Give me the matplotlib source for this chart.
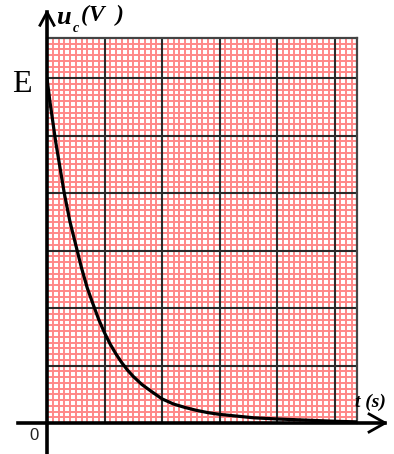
import numpy as np
import matplotlib
matplotlib.use('Agg')
import matplotlib.pyplot as plt
from matplotlib.ticker import MultipleLocator

# capacitor discharge curve (t in grid units, u in grid units, E = 6)
t_vals = [0.0, 0.05, 0.1, 0.15, 0.2, 0.25, 0.3, 0.4, 0.5, 0.6, 0.7, 0.8, 0.9,
          1.0, 1.1, 1.2, 1.3, 1.4, 1.5, 1.65, 1.8, 2.0, 2.2, 2.4, 2.6, 2.8,
          3.0, 3.3, 3.6, 4.0, 4.5, 5.0, 5.39]
u_vals = [6.0, 5.6, 5.25, 4.9, 4.6, 4.3, 4.0, 3.5, 3.1, 2.7, 2.35, 2.07, 1.8,
          1.57, 1.37, 1.2, 1.05, 0.92, 0.81, 0.67, 0.56, 0.42, 0.33, 0.27, 0.22, 0.18,
          0.15, 0.12, 0.09, 0.07, 0.05, 0.03, 0.02]
x_max = 5.39
y_max = 6.70

W, H = 394, 454
fig = plt.figure(figsize=(W/100, H/100), dpi=100)
fig.patch.set_facecolor('white')

# axes box in pixels: left 47, right 357, top 38, bottom 423
ax = fig.add_axes([47/W, (H-423)/H, (357-47)/W, (423-38)/H])
ax.set_xlim(0, x_max)
ax.set_ylim(0, y_max)

# graph paper: red minor grid, black major lines on top
ax.xaxis.set_major_locator(MultipleLocator(1))
ax.yaxis.set_major_locator(MultipleLocator(1))
ax.xaxis.set_minor_locator(MultipleLocator(0.1))
ax.yaxis.set_minor_locator(MultipleLocator(0.1))
ax.grid(which='both', color='#ff8888', linewidth=1.4)
ax.set_axisbelow(True)
for xv in range(1, 6):
    ax.axvline(xv, color='#2a2a2a', linewidth=1.5, zorder=2)
for yv in range(1, 7):
    ax.axhline(yv, color='#2a2a2a', linewidth=1.5, zorder=2)
ax.tick_params(which='both', length=0, labelbottom=False, labelleft=False)
for side in ['top', 'right']:
    ax.spines[side].set_color('#444444')
    ax.spines[side].set_linewidth(1.6)
for side in ['left', 'bottom']:
    ax.spines[side].set_visible(False)

# the curve
ax.plot(t_vals, u_vals, color='black', linewidth=2.3, solid_capstyle='round',
        solid_joinstyle='round', zorder=5)

# axes with open arrow heads (in grid units, 57.5 px per unit)
px = 1/57.5
ax.plot([0, 0], [-32*px, 411*px], color='black', linewidth=2.6, clip_on=False, zorder=6)
ax.plot([-7*px, 0, 7*px], [398*px, 411*px, 398*px], color='black', linewidth=2.0,
        clip_on=False, zorder=6)
ax.plot([-29*px, 338*px], [0, 0], color='black', linewidth=2.6, clip_on=False, zorder=6)
ax.plot([322*px, 338*px, 322*px], [9*px, 0, -9*px], color='black', linewidth=2.0,
        clip_on=False, zorder=6)

# labels
fig.text(22/W, 1-84/H, 'E', fontsize=23, family='Liberation Serif',
         ha='center', va='center')
fig.text(56/W, 1-18/H, 'u', fontsize=19, family='Liberation Serif',
         weight='bold', style='italic', ha='left', va='center')
fig.text(73/W, 1-28/H, 'c', fontsize=10, family='Liberation Serif',
         weight='bold', style='italic', ha='left', va='center')
fig.text(81/W, 1-15/H, '(V  )', fontsize=17, family='Liberation Serif',
         weight='bold', style='italic', ha='left', va='center')
fig.text(355/W, 1-402/H, 't (s)', fontsize=14, family='Liberation Serif',
         weight='bold', style='italic', ha='left', va='center')
fig.text(34/W, 1-436/H, '0', fontsize=12, family='Liberation Sans',
         ha='center', va='center', color='#222222')

fig.savefig('out.png', dpi=100)
